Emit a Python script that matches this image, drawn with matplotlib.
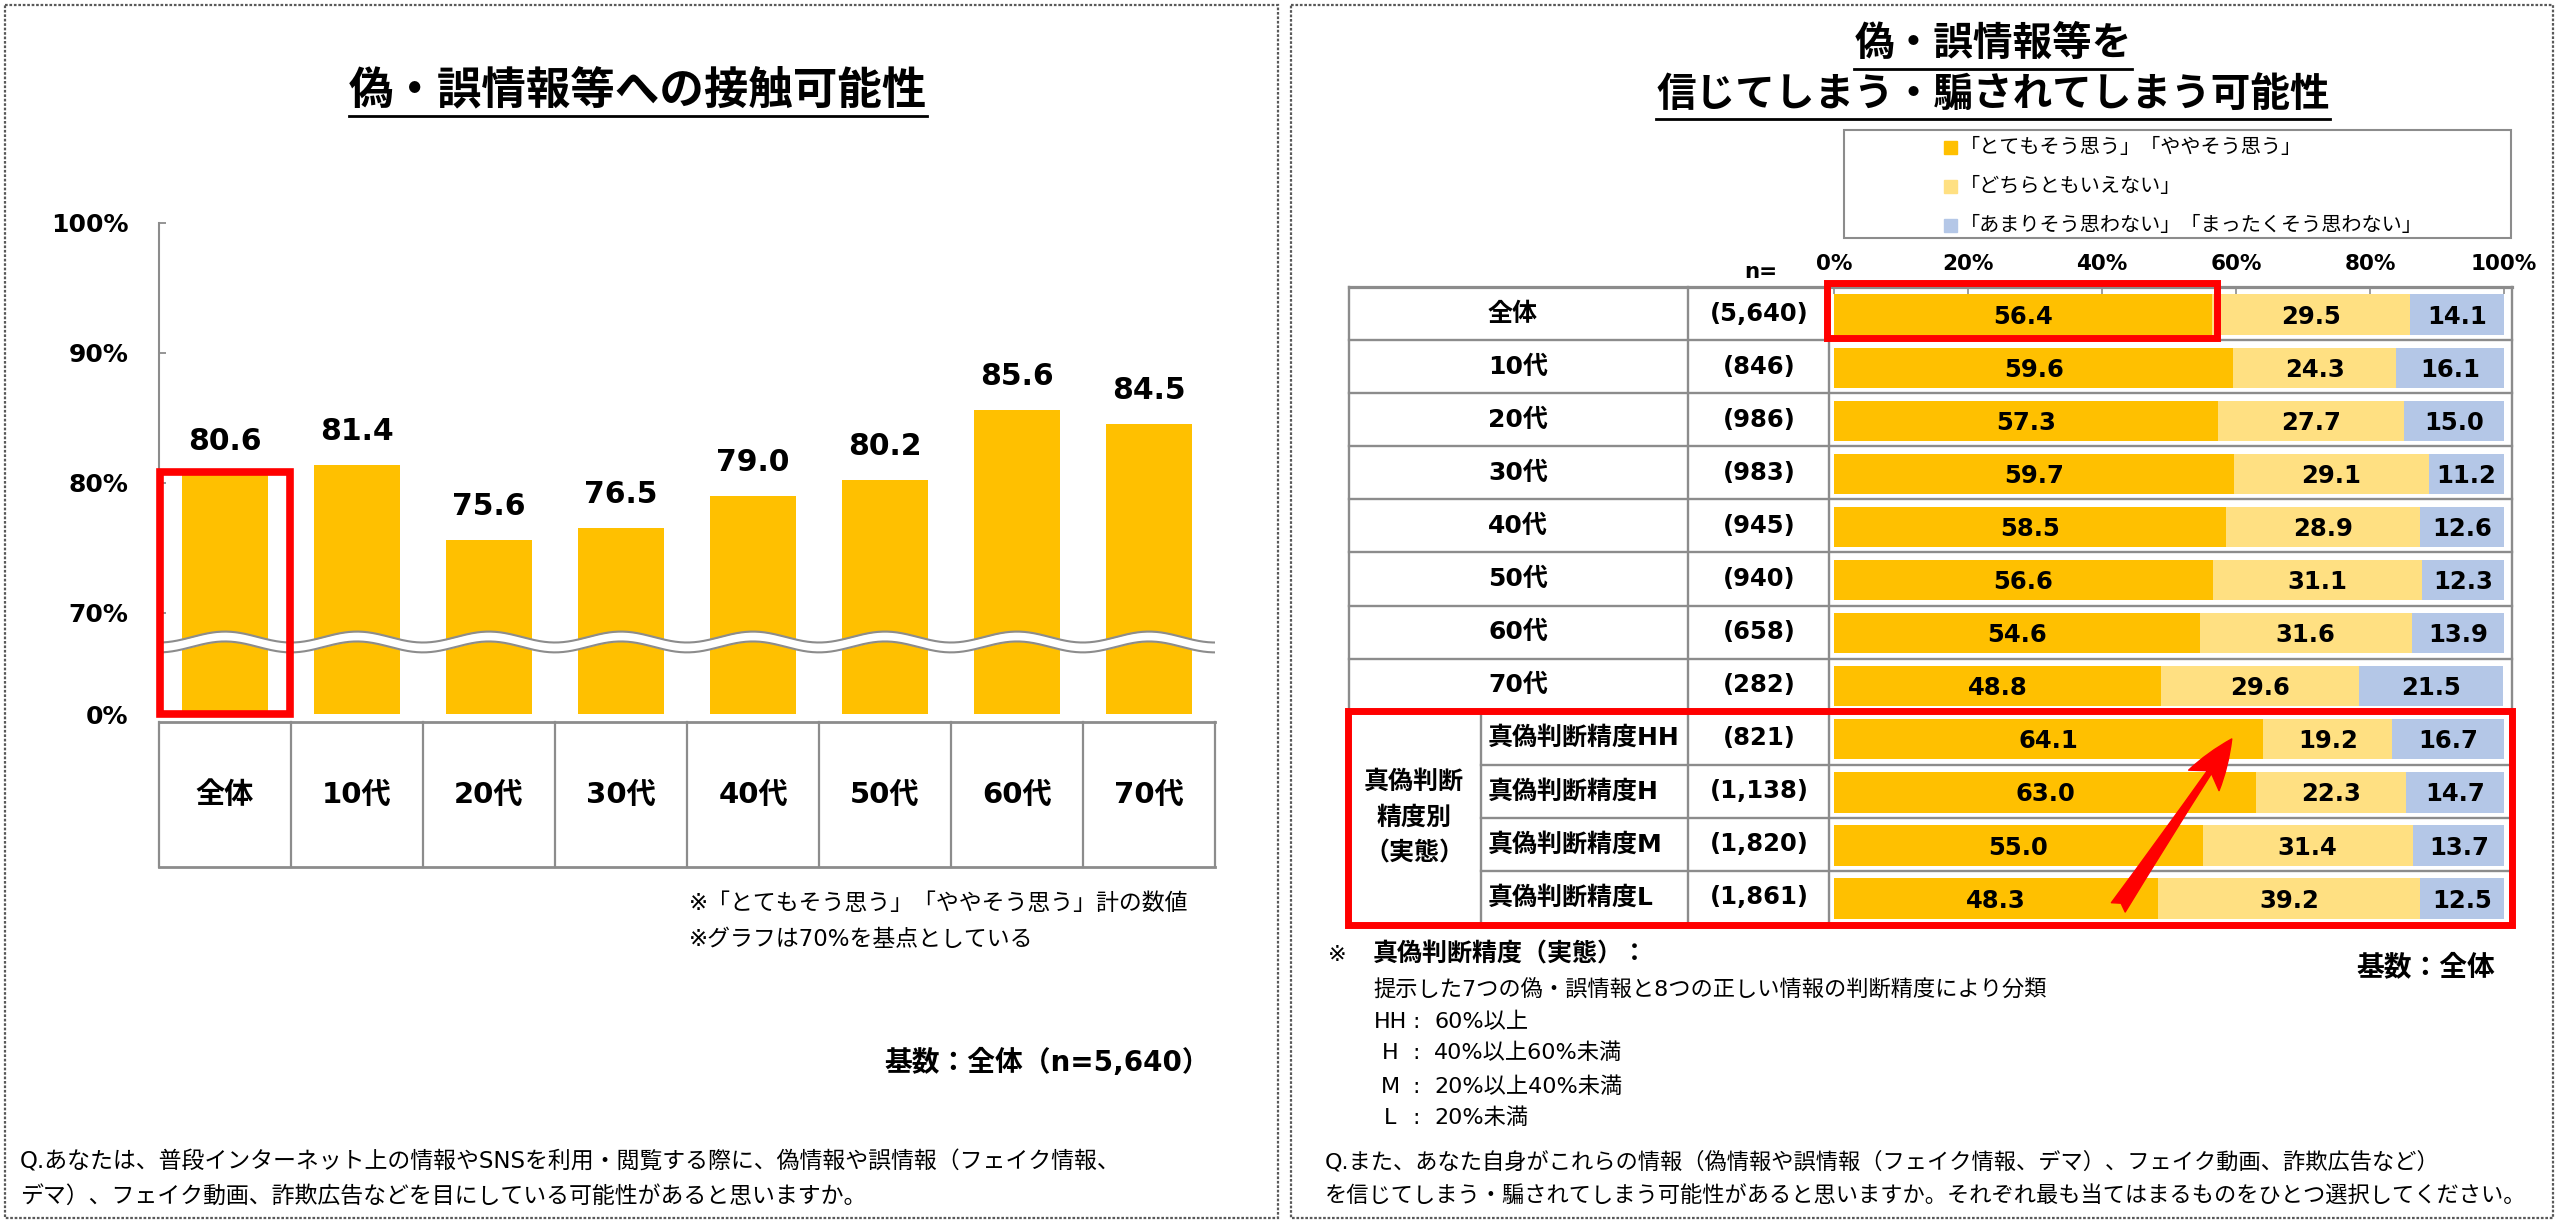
"""
Two-panel survey chart: exposure to / belief in false information (JP).
"""
import numpy as np
import matplotlib
matplotlib.use("Agg")
import matplotlib.pyplot as plt
import matplotlib.transforms as mtransforms
from matplotlib.patches import Rectangle, FancyArrowPatch

plt.rcParams['font.family'] = ['DejaVu Sans', 'Noto Sans CJK JP']

# ── data ─────────────────────────────────────────────────────────────────────
AGE_CATS = ['全体', '10代', '20代', '30代', '40代', '50代', '60代', '70代']
CONTACT = [80.6, 81.4, 75.6, 76.5, 79.0, 80.2, 85.6, 84.5]
CONTACT_TICKS = [0, 70, 80, 90, 100]

ROWS = ['全体', '10代', '20代', '30代', '40代', '50代', '60代', '70代',
        '真偽判断精度HH', '真偽判断精度H', '真偽判断精度M', '真偽判断精度L']
ROW_N = ['(5,640)', '(846)', '(986)', '(983)', '(945)', '(940)', '(658)', '(282)',
         '(821)', '(1,138)', '(1,820)', '(1,861)']
AGREE = [56.4, 59.6, 57.3, 59.7, 58.5, 56.6, 54.6, 48.8, 64.1, 63.0, 55.0, 48.3]
NEUTRAL = [29.5, 24.3, 27.7, 29.1, 28.9, 31.1, 31.6, 29.6, 19.2, 22.3, 31.4, 39.2]
DISAGREE = [14.1, 16.1, 15.0, 11.2, 12.6, 12.3, 13.9, 21.5, 16.7, 14.7, 13.7, 12.5]
SERIES = ['「とてもそう思う」「ややそう思う」', '「どちらともいえない」',
          '「あまりそう思わない」「まったくそう思わない」']
PCT_TICKS = [0, 20, 40, 60, 80, 100]

GROUP_LABEL = ['真偽判断', '精度別', '（実態）']
ACC_LEVELS = ['HH', 'H', 'M', 'L']
ACC_RANGE = ['60%以上', '40%以上60%未満', '20%以上40%未満', '20%未満']

LEFT_NOTES = ['※「とてもそう思う」「ややそう思う」計の数値', '※グラフは70%を基点としている']
LEFT_Q = ['Q.あなたは、普段インターネット上の情報やSNSを利用・閲覧する際に、偽情報や誤情報（フェイク情報、',
          'デマ）、フェイク動画、詐欺広告などを目にしている可能性があると思いますか。']
RIGHT_Q = ['Q.また、あなた自身がこれらの情報（偽情報や誤情報（フェイク情報、デマ）、フェイク動画、詐欺広告など）',
           'を信じてしまう・騙されてしまう可能性があると思いますか。それぞれ最も当てはまるものをひとつ選択してください。']

# ── palette ──────────────────────────────────────────────────────────────────
ORANGE = '#FFC000'
YELLOW_L = '#FFE082'
BLUE_L = '#B4C7E7'
RED = '#FF0000'
LINE = '#8C8C8C'
DOT = '#595959'
COLORS = [ORANGE, YELLOW_L, BLUE_L]

W, H = 2560, 1224
fig = plt.figure(figsize=(W / 100, H / 100), dpi=100)
ax0 = fig.add_axes([0, 0, 1, 1])
ax0.set_xlim(0, W)
ax0.set_ylim(H, 0)
ax0.axis('off')
ax0.set_zorder(0)


def frac(x0, y0, x1, y1):
    # pixel box (top-left origin) -> figure rect
    return [x0 / W, 1 - y1 / H, (x1 - x0) / W, (y1 - y0) / H]


# panel borders (dotted)
for x0, x1 in [(5, 1278), (1291, 2553)]:
    ax0.add_patch(Rectangle((x0, 5), x1 - x0, 1213, fill=False, ec=DOT,
                            lw=1.6, ls=(0, (1.2, 0.8))))

titles = []
titles.append((ax0.text(638, 91, '偽・誤情報等への接触可能性', ha='center', va='center',
                        fontsize=32, weight='bold'), 116))
titles.append((ax0.text(1993, 44, '偽・誤情報等を', ha='center', va='center',
                        fontsize=28.5, weight='bold'), 69))
titles.append((ax0.text(1993, 95, '信じてしまう・騙されてしまう可能性', ha='center', va='center',
                        fontsize=28.5, weight='bold'), 119))

# ═════════════════════════════════════════════════════════════════════════════
# left: broken-axis column chart
# ═════════════════════════════════════════════════════════════════════════════
BASE = 70
BREAK_GAP = 7.77   # axis units between 0% and the 70% base


def brk(v):
    return v - BASE if v >= BASE else -BREAK_GAP


axL = fig.add_axes(frac(159, 223, 1215, 714))
axL.set_zorder(1)
axL.patch.set_alpha(0)
x = np.arange(len(AGE_CATS))
axL.bar(x, [brk(v) - brk(0) for v in CONTACT], bottom=brk(0), width=0.65,
        color=ORANGE, zorder=2)
for xi, v in zip(x, CONTACT):
    axL.annotate(f'{v:.1f}', (xi, brk(v)), xytext=(0, 18), textcoords='offset points',
                 ha='center', va='baseline', fontsize=21.5, weight='bold')
axL.set_xlim(-0.5, len(AGE_CATS) - 0.5)
axL.set_ylim(brk(0), brk(100))
axL.set_yticks([brk(t) for t in CONTACT_TICKS], [f'{t}%' for t in CONTACT_TICKS],
               fontsize=18, fontweight='bold')
axL.set_xticks([])
axL.tick_params(axis='y', direction='in', length=5, width=1.3, color=LINE, pad=22)
for s in ('top', 'right', 'bottom'):
    axL.spines[s].set_visible(False)
axL.spines['left'].set_color(LINE)
axL.spines['left'].set_linewidth(1.5)

# wavy break band
xs = np.linspace(-0.47, len(AGE_CATS) - 0.5, 900)
wave = -2.23 + 0.42 * np.cos(2 * np.pi * xs)
axL.fill_between(xs, wave - 0.38, wave + 0.38, color='white', zorder=3, lw=0)
axL.plot(xs, wave + 0.38, color=LINE, lw=1.5, zorder=4)
axL.plot(xs, wave - 0.38, color=LINE, lw=1.5, zorder=4)

# highlight 全体
axL.add_patch(Rectangle((-0.49, brk(0)), 0.98, brk(CONTACT[0]) - brk(0) + 0.25,
                        fill=False, ec=RED, lw=5.5, zorder=5, clip_on=False))

# category table under the bars
tL = mtransforms.blended_transform_factory(axL.transData, ax0.transData)
n = len(AGE_CATS)
for yv in (722, 867):
    axL.plot([-0.5, n - 0.5], [yv, yv], transform=tL, color=LINE, lw=2, clip_on=False)
for k in range(n + 1):
    axL.plot([k - 0.5, k - 0.5], [722, 867], transform=tL, color=LINE, lw=1.6, clip_on=False)
for xi, c in zip(x, AGE_CATS):
    axL.text(xi, 795, c, transform=tL, ha='center', va='center', fontsize=21, weight='bold')

for i, t in enumerate(LEFT_NOTES):
    ax0.text(689, 903 + 37 * i, t, ha='left', va='center', fontsize=16.5)
ax0.text(1210, 1063, '基数：全体（n=5,640）', ha='right', va='center', fontsize=20, weight='bold')
for i, t in enumerate(LEFT_Q):
    ax0.text(20, 1162 + 34 * i, t, ha='left', va='center', fontsize=16.5)

# ═════════════════════════════════════════════════════════════════════════════
# right: 100% stacked bars in a table
# ═════════════════════════════════════════════════════════════════════════════
axR = fig.add_axes(frac(1834, 287, 2504, 924))
axR.set_zorder(1)
axR.patch.set_alpha(0)
nr = len(ROWS)
y = np.arange(nr) + 0.5
left = np.zeros(nr)
for vals, col in zip([AGREE, NEUTRAL, DISAGREE], COLORS):
    vals = np.array(vals)
    axR.barh(y + 0.02, vals, left=left, height=0.76, color=col, zorder=2)
    for yi, l, v in zip(y, left, vals):
        axR.text(l + v / 2, yi + 0.06, f'{v:.1f}', ha='center', va='center',
                 fontsize=17.5, weight='bold', zorder=3)
    left = left + vals
axR.set_xlim(0, 100)
axR.set_ylim(nr, 0)
axR.set_xticks(PCT_TICKS, [f'{t}%' for t in PCT_TICKS], fontsize=15.5, fontweight='bold')
axR.set_yticks([])
axR.tick_params(axis='x', top=True, bottom=False, labeltop=True, labelbottom=False,
                direction='in', length=5, width=1.2, color=LINE, pad=9)
for s in axR.spines.values():
    s.set_visible(False)

tR = mtransforms.blended_transform_factory(ax0.transData, axR.transData)
X_L, X_G, X_N, X_B, X_R = 1349, 1481, 1688, 1829, 2512
grp = [i for i, r in enumerate(ROWS) if r.startswith('真偽判断精度')]
g0, g1 = grp[0], grp[-1] + 1
for k in range(nr + 1):
    xs0 = X_G if g0 < k < g1 else X_L
    axR.plot([xs0, X_R], [k, k], transform=tR, color=LINE,
             lw=2.3 if k == 0 else 1.7, clip_on=False, zorder=1)
for xv in (X_L, X_N, X_B, X_R):
    axR.plot([xv, xv], [0, nr], transform=tR, color=LINE, lw=1.7, clip_on=False, zorder=1)
axR.plot([X_G, X_G], [g0, g1], transform=tR, color=LINE, lw=1.7, clip_on=False, zorder=1)

for i, (r, nn) in enumerate(zip(ROWS, ROW_N)):
    axR.text(1488, i + 0.5, r, transform=tR, ha='left', va='center', fontsize=18, weight='bold')
    axR.text(1759, i + 0.5, nn, transform=tR, ha='center', va='center', fontsize=17.5,
             weight='bold')
gmid = (g0 + g1) / 2
for j, t in enumerate(GROUP_LABEL):
    axR.text(1414, gmid + (j - 1) * 0.68, t, transform=tR, ha='center', va='center',
             fontsize=18, weight='bold')
ax0.text(1761, 272, 'n=', ha='center', va='center', fontsize=15.5, weight='bold')

# highlights
axR.add_patch(Rectangle((-1.0, -0.07), AGREE[0] + 1.8, 1.03, fill=False, ec=RED,
                        lw=5, zorder=5, clip_on=False))
axR.add_patch(Rectangle((1348, g0 - 0.02), X_R - 1348, g1 - g0 + 0.04, transform=tR,
                        fill=False, ec=RED, lw=5, zorder=5, clip_on=False))
axR.add_patch(FancyArrowPatch((42.2, 11.73), (59.6, 8.47),
                              arrowstyle='fancy,head_length=1.5,head_width=1.1,tail_width=0.5',
                              mutation_scale=24, color=RED, zorder=6, clip_on=False))

# legend
ax0.add_patch(Rectangle((1844, 130), 2511 - 1844, 108, fill=False, ec=LINE, lw=1.5))
for k, (lab, col) in enumerate(zip(SERIES, COLORS)):
    yc = 147 + 39 * k
    ax0.add_patch(Rectangle((1944, yc - 6.5), 13, 13, color=col))
    ax0.text(1960, yc, lab, ha='left', va='center', fontsize=14.5)

# notes
ax0.text(1328, 955, '※', ha='left', va='center', fontsize=16)
ax0.text(1373, 955, '真偽判断精度（実態）：', ha='left', va='center', fontsize=18, weight='bold')
ax0.text(2495, 967, '基数：全体', ha='right', va='center', fontsize=20, weight='bold')
ax0.text(1373, 990, '提示した7つの偽・誤情報と8つの正しい情報の判断精度により分類',
         ha='left', va='center', fontsize=16)
for lvl, rng, yy in zip(ACC_LEVELS, ACC_RANGE, [1022, 1053, 1087, 1118]):
    ax0.text(1390, yy, lvl, ha='center', va='center', fontsize=16)
    ax0.text(1416, yy, ':', ha='center', va='center', fontsize=16)
    ax0.text(1434, yy, rng, ha='left', va='center', fontsize=16)
for i, t in enumerate(RIGHT_Q):
    ax0.text(1325, 1162 + 34 * i, t, ha='left', va='center', fontsize=16)

# title underlines
fig.canvas.draw()
inv = ax0.transData.inverted()
for t, uy in titles:
    bb = t.get_window_extent()
    (xa, _), (xb, _) = inv.transform([(bb.x0, bb.y0), (bb.x1, bb.y1)])
    ax0.plot([xa, xb], [uy, uy], color='black', lw=2)

fig.savefig('out.png', dpi=100, facecolor='white')
